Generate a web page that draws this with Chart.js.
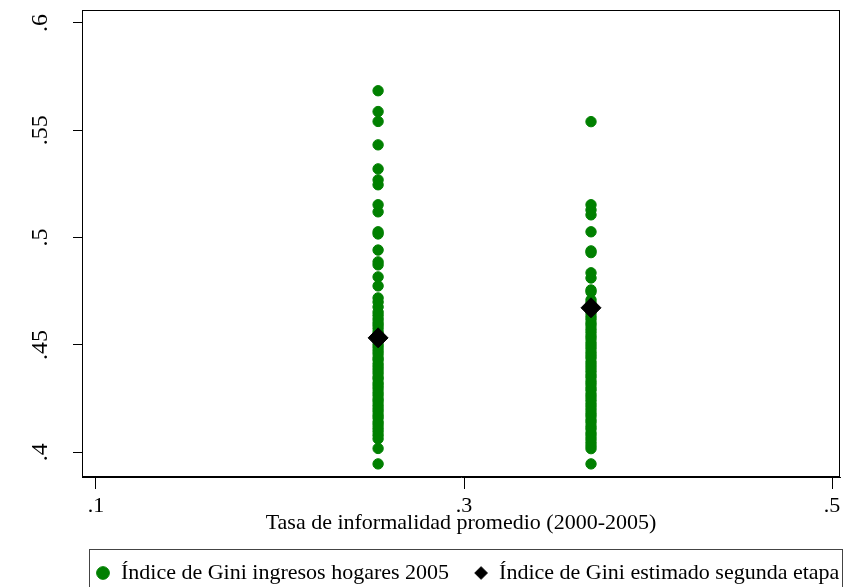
<!DOCTYPE html>
<html>
<head>
<meta charset="utf-8">
<script src="https://cdn.jsdelivr.net/npm/chart.js@4/dist/chart.umd.min.js"></script>
<style>
  html, body { margin: 0; padding: 0; background: #fff; }
  #wrap { width: 844px; height: 587px; }
</style>
</head>
<body>
<div id="wrap"><canvas id="c" width="844" height="587"></canvas></div>
<script>
// ---- data ----
const groupX = [0.2533, 0.369];   // Tasa de informalidad promedio
const giniGroup1 = [0.5684, 0.5587, 0.5541, 0.5432, 0.5320, 0.5269, 0.5246, 0.5153, 0.5120, 0.5027, 0.5017, 0.4942, 0.4887, 0.4873, 0.4817, 0.4775, 0.4719, 0.4700, 0.4677,
  0.4653, 0.4638, 0.4621, 0.4605, 0.4592, 0.4577, 0.4560, 0.4548, 0.4531, 0.4519, 0.4502, 0.4488, 0.4473, 0.4459, 0.4441, 0.4430, 0.4412, 0.4398, 0.4384, 0.4369,
  0.4352, 0.4341, 0.4323, 0.4310, 0.4296, 0.4279, 0.4265, 0.4248, 0.4236, 0.4219, 0.4204, 0.4190, 0.4173, 0.4160, 0.4141, 0.4128, 0.4112, 0.4097, 0.4080, 0.4063,
  0.4018, 0.3946];
const giniGroup2 = [0.5540, 0.5153, 0.5129, 0.5106, 0.5027, 0.4938, 0.4930, 0.4836, 0.4812, 0.4756, 0.4747, 0.4710,
  0.4695, 0.4681, 0.4664, 0.4650, 0.4633, 0.4619, 0.4602, 0.4590, 0.4573, 0.4558, 0.4542, 0.4529, 0.4511, 0.4497, 0.4483, 0.4466, 0.4452, 0.4439, 0.4421, 0.4407,
  0.4393, 0.4378, 0.4362, 0.4349, 0.4331, 0.4318, 0.4302, 0.4289, 0.4271, 0.4258, 0.4243, 0.4227, 0.4213, 0.4198, 0.4182, 0.4169, 0.4152, 0.4139, 0.4121, 0.4108,
  0.4090, 0.4077, 0.4062, 0.4046, 0.4031, 0.4017, 0.3946];
const giniEstimated = [0.4533, 0.4673];
const xTickValues = [0.1, 0.3, 0.5];
const xTickLabels = ['.1', '.3', '.5'];
const yTickValues = [0.4, 0.45, 0.5, 0.55, 0.6];
const yTickLabels = ['.4', '.45', '.5', '.55', '.6'];
const seriesNames = ['Índice de Gini ingresos hogares 2005', 'Índice de Gini estimado segunda etapa'];
const xTitle = 'Tasa de informalidad promedio (2000-2005)';

// ---- build datasets ----
const observed = [];
giniGroup1.forEach(v => observed.push({x: groupX[0], y: v}));
giniGroup2.forEach(v => observed.push({x: groupX[1], y: v}));
const estimated = giniEstimated.map((v, i) => ({x: groupX[i], y: v}));

const FONT = "'Liberation Serif', 'Times New Roman', serif";

const framePlugin = {
  id: 'frame',
  afterLayout(chart) {
    // shift the legend block to the right, as in the reference
    if (chart.legend) { chart.legend.left += 71; chart.legend.right += 71; }
  },
  afterDraw(chart) {
    const {ctx, chartArea: a} = chart;
    ctx.save();
    ctx.strokeStyle = '#000';
    ctx.lineWidth = 1;
    ctx.strokeRect(Math.round(a.left) + 0.5, Math.round(a.top) + 0.5, Math.round(a.right - a.left) - 1, Math.round(a.bottom - a.top) - 1);
    // legend box
    const lg = chart.legend;
    if (lg && lg.legendHitBoxes && lg.legendHitBoxes.length) {
      const hb = lg.legendHitBoxes;
      const l = hb[0].left - 7;
      const r = hb[hb.length - 1].left + hb[hb.length - 1].width + 3;
      ctx.strokeStyle = '#444';
      ctx.strokeRect(Math.round(l) + 0.5, Math.round(lg.top + 12) + 0.5, Math.round(r - l), 80);
    }
    ctx.restore();
  }
};

new Chart(document.getElementById('c'), {
  type: 'scatter',
  data: {
    datasets: [
      {
        label: seriesNames[0],
        data: observed,
        order: 2,
        pointStyle: 'circle',
        pointRadius: 5.2,
        pointHoverRadius: 5.2,
        backgroundColor: '#008000',
        borderColor: '#008000',
        borderWidth: 1
      },
      {
        label: seriesNames[1],
        data: estimated,
        order: 1,
        pointStyle: 'rectRot',
        pointRadius: 10,
        pointHoverRadius: 10,
        backgroundColor: '#000',
        borderColor: '#000',
        borderWidth: 1
      }
    ]
  },
  options: {
    responsive: false,
    animation: false,
    devicePixelRatio: 1,
    layout: { autoPadding: false, padding: { top: 10, right: 4, left: 0, bottom: 0 } },
    plugins: {
      tooltip: { enabled: false },
      legend: {
        position: 'bottom',
        align: 'start',
        maxHeight: 50,
        labels: {
          usePointStyle: true,
          boxWidth: 14,
          boxHeight: 9,
          padding: 25,
          color: '#000',
          font: { family: FONT, size: 22 },
          sort: (a, b) => a.datasetIndex - b.datasetIndex
        }
      }
    },
    scales: {
      x: {
        type: 'linear',
        min: 0.0924,
        max: 0.5043,
        afterFit(s) { s.height = 60; s.paddingLeft = 0; s.paddingRight = 0; },
        afterBuildTicks(s) { s.ticks = xTickValues.map(v => ({value: v})); },
        grid: { drawOnChartArea: false, drawTicks: true, tickLength: 12, color: '#000', lineWidth: 1 },
        border: { display: true, color: '#000', width: 1 },
        ticks: {
          color: '#000',
          padding: 6,
          maxRotation: 0,
          font: { family: FONT, size: 22, lineHeight: 1 },
          callback: (v) => { const i = xTickValues.findIndex(t => Math.abs(t - v) < 1e-9); return i >= 0 ? xTickLabels[i] : ''; }
        },
        title: {
          display: true,
          text: xTitle,
          color: '#000',
          font: { family: FONT, size: 22, lineHeight: 1.2 },
          padding: { top: 0, bottom: 1 }
        }
      },
      y: {
        type: 'linear',
        min: 0.3885,
        max: 0.606,
        afterFit(s) { s.width = 82; s.paddingTop = 0; s.paddingBottom = 0; },
        afterBuildTicks(s) { s.ticks = yTickValues.map(v => ({value: v})); },
        grid: { drawOnChartArea: false, drawTicks: true, tickLength: 9, color: '#000', lineWidth: 1 },
        border: { display: true, color: '#000', width: 1 },
        ticks: {
          color: '#000',
          padding: 17,
          minRotation: 90,
          maxRotation: 90,
          crossAlign: 'center',
          font: { family: FONT, size: 24, lineHeight: 1 },
          callback: (v) => { const i = yTickValues.findIndex(t => Math.abs(t - v) < 1e-9); return i >= 0 ? yTickLabels[i] : ''; }
        }
      }
    }
  },
  plugins: [framePlugin]
});
</script>
</body>
</html>
